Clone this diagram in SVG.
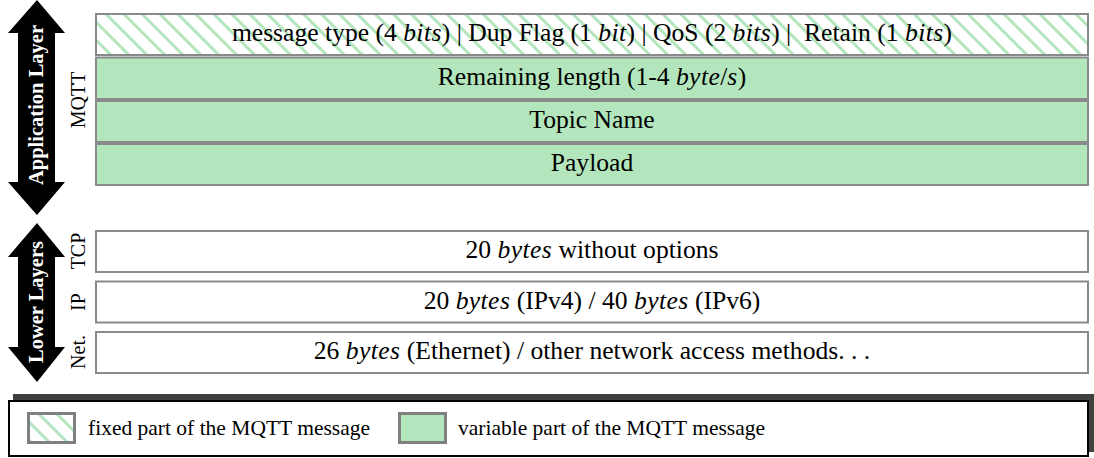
<svg xmlns="http://www.w3.org/2000/svg" width="1094" height="458" viewBox="0 0 1094 458">
<style>
.box{stroke:#8a8a8a;stroke-width:2}
.var{fill:#b3e6bd}
.fix{fill:url(#hatch)}
.low{fill:#ffffff}
.t{font-family:"Liberation Serif","Times New Roman",serif;font-size:25.6px;fill:#000;text-anchor:middle}
.i{font-style:italic;letter-spacing:0.4px}
.side{font-family:"Liberation Serif","Times New Roman",serif;font-size:20px;fill:#000;text-anchor:middle}
.layer{font-family:"Liberation Serif","Times New Roman",serif;font-size:20.5px;font-weight:bold;fill:#fff;text-anchor:middle}
.leg{font-family:"Liberation Serif","Times New Roman",serif;font-size:21.5px;fill:#000}
.arrow{fill:#000}
</style>
<defs>
<pattern id="hatch" patternUnits="userSpaceOnUse" width="12.7" height="12.7" patternTransform="rotate(-45)">
<rect x="0" y="0" width="12.7" height="12.7" fill="#fff"/>
<rect x="0" y="0" width="3" height="12.7" fill="#b3e6bd"/>
</pattern>
</defs>
<rect width="1094" height="458" fill="#fff"/>

<g id="connectors">
<polygon id="app-arrow" class="arrow" points="37,0 65,33 55,33 55,182 65,182 37,215 8,182 18,182 18,33 8,33"/>
<polygon id="lower-arrow" class="arrow" points="37,223 65,257 55,257 55,347 65,347 37,382 8,347 18,347 18,257 8,257"/>
</g>

<g id="label-application">
<text class="layer" transform="translate(43,105) rotate(-90)">Application Layer</text>
</g>
<g id="label-lower">
<text class="layer" transform="translate(43,302) rotate(-90)">Lower Layers</text>
</g>
<g id="label-mqtt"><text class="side" transform="translate(85,100) rotate(-90)">MQTT</text></g>
<g id="label-tcp"><text class="side" transform="translate(85,251) rotate(-90)">TCP</text></g>
<g id="label-ip"><text class="side" transform="translate(85,302) rotate(-90)">IP</text></g>
<g id="label-net"><text class="side" transform="translate(85,352) rotate(-90)">Net.</text></g>

<g id="node-header">
<rect class="box fix" x="96" y="14" width="992" height="41"/>
<text class="t" x="592" y="41" xml:space="preserve">message type (4 <tspan class="i">bits</tspan>) | Dup Flag (1 <tspan class="i">bit</tspan>) | QoS (2 <tspan class="i">bits</tspan>) |  Retain (1 <tspan class="i">bits</tspan>)</text>
</g>
<g id="node-remaining">
<rect class="box var" x="96" y="57.5" width="992" height="41.5"/>
<text class="t" x="592" y="84.5">Remaining length (1-4 <tspan class="i">byte</tspan>/<tspan class="i">s</tspan>)</text>
</g>
<g id="node-topic">
<rect class="box var" x="96" y="101" width="992" height="41"/>
<text class="t" x="592" y="128">Topic Name</text>
</g>
<g id="node-payload">
<rect class="box var" x="96" y="144" width="992" height="41"/>
<text class="t" x="592" y="170.5">Payload</text>
</g>

<g id="node-tcp">
<rect class="box low" x="96" y="231" width="992" height="41"/>
<text class="t" x="592" y="258">20 <tspan class="i">bytes</tspan> without options</text>
</g>
<g id="node-ip">
<rect class="box low" x="96" y="281.5" width="992" height="41"/>
<text class="t" x="592" y="308.5">20 <tspan class="i">bytes</tspan> (IPv4) / 40 <tspan class="i">bytes</tspan> (IPv6)</text>
</g>
<g id="node-net">
<rect class="box low" x="96" y="332" width="992" height="41"/>
<text class="t" x="592" y="359">26 <tspan class="i">bytes</tspan> (Ethernet) / other network access methods. . .</text>
</g>

<g id="legend">
<rect x="13" y="394" width="1081" height="58" fill="#404040"/>
<rect x="9" y="401" width="1079" height="55" fill="#fff" stroke="#000" stroke-width="2"/>
<rect x="28.5" y="413.5" width="46" height="29" fill="url(#hatch)" stroke="#808080" stroke-width="3"/>
<text class="leg" x="88" y="435">fixed part of the MQTT message</text>
<rect x="399.5" y="413.5" width="46" height="29" fill="#b3e6bd" stroke="#808080" stroke-width="3"/>
<text class="leg" x="458" y="435">variable part of the MQTT message</text>
</g>
</svg>
